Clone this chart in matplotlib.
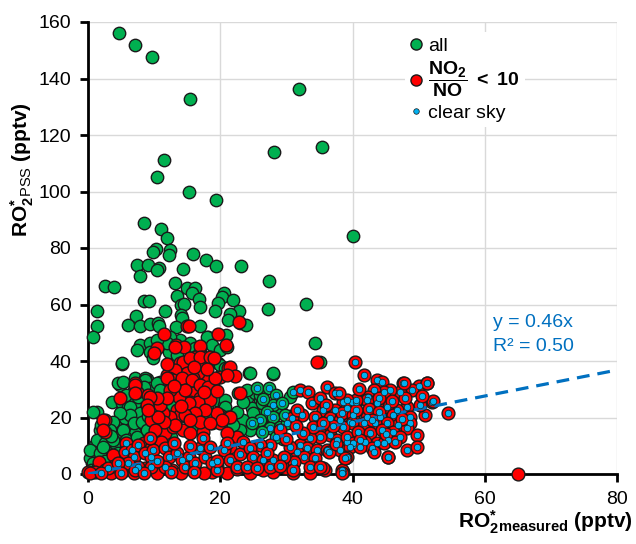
import matplotlib
matplotlib.use("Agg")
import matplotlib.pyplot as plt
from matplotlib.lines import Line2D
import numpy as np

plt.rcParams['font.family'] = ['Liberation Sans', 'DejaVu Sans']
plt.rcParams['mathtext.fontset'] = 'custom'
plt.rcParams['mathtext.rm'] = 'Liberation Sans'
plt.rcParams['mathtext.bf'] = 'Liberation Sans:bold'
plt.rcParams['mathtext.it'] = 'Liberation Sans:italic'

# all points (green)
all_pts = np.array([
    (4.7, 156), (7.1, 152), (9.7, 147.6), (15.4, 132.7), (31.9, 136.3), (28.1, 114), (35.4, 115.8),
    (11.5, 111), (10.4, 105.2), (15.2, 99.7), (19.3, 97), (40.1, 84.2),
    (8.4, 89), (11.0, 86.6), (12.0, 83.7), (10.3, 79.6), (9.8, 78.5), (12.4, 79.3), (12.3, 77.5),
    (15.9, 77.8), (17.8, 75.9), (19.3, 73.7), (23.2, 73.7), (7.4, 74.1), (9.1, 74.1), (10.7, 72.8),
    (10.5, 72.1), (14.4, 72.7), (7.9, 70.1), (27.3, 68.2), (13.2, 67.6), (2.6, 66.5), (4.0, 66.1),
    (14.9, 65.7), (16.2, 65.7), (15.7, 64.2), (20.5, 64.2), (20.2, 62.8), (13.4, 62.9), (16.8, 62.1),
    (22.0, 61.7), (8.4, 61.2), (9.2, 61.3), (19.7, 60.4), (14.0, 59.8), (14.5, 60.1), (17.0, 59.0),
    (27.2, 58.3), (32.9, 60.2), (1.4, 57.8), (11.6, 57.8), (19.2, 57.7), (22.9, 57.8), (21.5, 56.7),
    (7.2, 55.9), (14.0, 56.2), (14.2, 55.2), (21.1, 54.5), (1.3, 52.5), (6.1, 52.9), (7.8, 52.3),
    (9.4, 53.2), (10.6, 53.5), (10.8, 52.4), (13.3, 52.1), (17.0, 52.3), (23.0, 53.6), (23.9, 52.7),
    (0.8, 48.5), (18.2, 48.4), (20.8, 49.2), (34.4, 46.3),
    (7.9, 45.7), (9.4, 46.3), (10.6, 45.7), (12.2, 43.3), (13.9, 47.4), (15.4, 46.3), (16.2, 44.5),
    (18.0, 48.6), (18.7, 45.7), (20.0, 43.9), (21.0, 45.1), (12.4, 48.6), (11.9, 46.3), (10.4, 47.4),
    (9.4, 43.3), (9.9, 41.0), (7.4, 43.9), (5.2, 38.9), (5.1, 39.2), (19.7, 39.2), (20.2, 36.2),
    (20.0, 38.6), (20.7, 37.4), (24.4, 35.6), (28.0, 35.3), (35.1, 39.8), (13.4, 42.0), (17.0, 43.5),
    (4.8, 31.5), (7.1, 33.3), (8.9, 33.5), (10.9, 32.7), (7.1, 33.9), (8.6, 33.9), (4.6, 32.1),
    (5.3, 32.7), (6.9, 29.7), (8.6, 33.3), (9.4, 30.3), (10.4, 32.1), (10.9, 29.7), (3.6, 25.6),
    (5.1, 25.0), (6.1, 23.8), (5.8, 28.0), (1.3, 22.1), (0.8, 22.1), (4.3, 17.9), (5.6, 19.7),
    (6.9, 19.1), (7.9, 16.2), (8.4, 17.9), (9.6, 16.8), (7.1, 14.4), (5.6, 13.2), (4.6, 15.0),
    (11.6, 22.7), (12.9, 23.8), (13.7, 20.3), (14.7, 15.6), (16.2, 16.8), (18.7, 17.9), (1.1, 10.3),
    (2.1, 9.1), (3.1, 9.7), (4.1, 10.9), (2.8, 6.7), (1.1, 6.1), (0.6, 3.8), (4.6, 7.3), (7.1, 25.0),
    (7.6, 27.4), (8.4, 30.9), (6.4, 23.8), (7.9, 21.5), (6.4, 20.9), (6.9, 17.9), (8.1, 18.5),
    (4.8, 21.5), (3.8, 18.5), (3.3, 15.6), (1.8, 15.6), (1.3, 12.0), (2.6, 10.9), (3.8, 12.0),
    (0.3, 5.5), (0.3, 8.5), (5.3, 15.6), (5.8, 12.0), (7.4, 13.2), (8.9, 15.6), (10.4, 16.8),
    (11.4, 17.9), (11.9, 22.7), (11.1, 25.6), (9.6, 23.8), (12.7, 24.4), (13.9, 22.7), (15.4, 23.2),
    (16.9, 23.2), (18.0, 21.5), (18.0, 24.4), (19.5, 26.2), (20.5, 24.4), (21.2, 19.7), (23.0, 15.6),
    (24.0, 26.8), (25.3, 28.6), (26.0, 26.2), (24.8, 23.2), (26.0, 20.9), (27.3, 19.7), (28.0, 17.9),
    (0.8, 3.8), (1.8, 7.3), (2.3, 9.7), (0.5, 1.5), (1.5, 2.5), (2.5, 4.5), (3.5, 13.5), (2.0, 17.5),
    (6.5, 9.5), (8.5, 11.0), (10.0, 12.5), (12.5, 13.0), (9.0, 20.5), (10.0, 20.0),
    (24.5, 35.6), (28.0, 35.6), (22.7, 28.6), (24.0, 29.7), (26.0, 28.0), (26.3, 25.0), (25.0, 21.5),
    (23.5, 19.1), (24.5, 15.6), (23.0, 15.6), (22.0, 17.3), (20.7, 26.2), (20.7, 23.8), (20.5, 20.3),
    (30.6, 27.4), (29.1, 23.8), (22.5, 22.0), (23.5, 25.5), (30.5, 20.5), (29.5, 12.5),
])

# all points that are also clear sky
all_clear = np.array([
    (25.5, 30.3), (27.3, 30.3), (28.5, 28.0), (28.0, 24.4), (29.3, 25.0), (27.0, 22.1), (28.0, 20.3),
    (26.0, 19.1), (27.5, 16.2), (29.0, 16.8), (30.1, 17.9), (26.3, 15.0), (28.5, 13.2), (26.5, 26.5),
    (24.8, 18.0), (29.8, 21.0), (31.0, 29.0),
])

# NO2/NO < 10 (red)
low_pts = np.array([
    (22.8, 53.7), (14.9, 52.4), (15.2, 52.5), (11.5, 49.4), (19.6, 49.4), (20.8, 45.7), (13.3, 45.6),
    (14.5, 45.1), (17.0, 45.4), (10.5, 44.7), (10.0, 42.7), (13.2, 45.1),
    (11.9, 35.0), (12.9, 34.4), (14.2, 39.2), (14.7, 39.8), (16.2, 41.5), (17.4, 41.3), (18.6, 40.9),
    (17.2, 37.8), (15.7, 35.6), (16.7, 34.4), (13.9, 39.2), (14.4, 39.8), (15.4, 40.9), (16.9, 41.5),
    (18.5, 41.3), (19.0, 40.9), (21.2, 37.4), (20.0, 34.5), (19.0, 33.3), (18.0, 34.5), (16.7, 35.6),
    (15.9, 33.9), (14.9, 35.6), (13.2, 36.8), (12.2, 33.9), (12.9, 33.3), (13.9, 32.1), (14.9, 29.1),
    (15.9, 28.6), (16.9, 26.8), (15.4, 25.6), (13.4, 22.7), (13.9, 20.9), (12.4, 20.3), (11.4, 21.5),
    (10.9, 24.4), (9.6, 19.1), (10.4, 15.6), (11.6, 14.4), (12.9, 16.8), (14.4, 15.6), (15.4, 14.4),
    (17.4, 15.0), (20.0, 20.9), (21.2, 20.3), (22.5, 13.2), (21.5, 9.7), (21.5, 37.8), (22.2, 34.8),
    (21.0, 35.0), (23.0, 28.6), (20.0, 17.9), (21.5, 20.3), (21.0, 14.4),
    (11.9, 33.9), (14.2, 33.9), (15.7, 33.3), (16.9, 31.5), (18.2, 30.9), (18.5, 26.2), (16.7, 25.6),
    (15.2, 25.0), (13.7, 27.4), (12.4, 29.7), (14.7, 29.7), (19.2, 33.9), (19.5, 21.5), (20.2, 19.1),
    (17.7, 22.7), (16.2, 21.5), (14.7, 20.9), (13.2, 17.3), (17.0, 18.5), (18.5, 18.0), (16.0, 38.0),
    (18.0, 37.0), (13.0, 31.0), (17.5, 29.0), (19.5, 29.5), (14.0, 24.0), (12.0, 27.0), (11.5, 18.5),
    (15.5, 19.0), (12.0, 39.0),
    (7.1, 32.1), (7.4, 29.1), (9.1, 28.0), (10.4, 26.8), (10.6, 20.3), (10.1, 15.6), (2.6, 19.1),
    (2.6, 15.0), (1.6, 4.4), (4.6, 5.5), (8.4, 10.9), (9.6, 9.1), (11.1, 11.4), (4.8, 26.8),
    (2.3, 19.1), (2.3, 15.6), (7.1, 31.5), (7.1, 28.6), (9.4, 27.4), (8.9, 24.4), (9.1, 22.7), (3.8, 6.7),
    (0.0, 0.8), (1.1, 0.8), (2.6, 1.4), (5.6, 1.4), (8.6, 2.0), (12.7, 1.4), (16.2, 1.4), (18.7, 0.8),
    (0.3, 0.2), (3.5, 0.3), (7.0, 0.4), (10.5, 0.3), (14.0, 0.5), (17.5, 0.3), (21.0, 0.4), (24.5, 0.3),
    (28.0, 0.6), (31.0, 0.3), (33.6, 0.2), (35.9, 1.4), (35.6, 2.0), (65.1, 0.0), (19.5, 3.0),
    (22.5, 1.8), (26.5, 1.5), (30.0, 2.2), (4.0, 3.0), (6.0, 5.0),
    (34.6, 39.8), (35.1, 14.4), (38.9, 5.5), (29.0, 15.6),
])

# NO2/NO < 10 and clear sky
low_clear = np.array([
    (5.8, 10.9), (5.6, 7.9), (6.6, 8.5), (7.6, 10.3), (6.9, 6.1), (8.6, 7.3), (9.6, 6.1), (9.9, 8.5),
    (11.6, 9.1), (12.2, 6.1), (13.4, 7.3), (14.2, 5.0), (15.2, 6.1), (14.7, 2.6), (16.2, 3.8),
    (16.9, 9.1), (17.4, 12.6), (17.7, 6.1), (18.7, 3.8), (19.5, 1.4), (11.6, 2.6), (9.6, 2.6),
    (7.6, 2.6), (6.1, 3.8), (7.1, 1.4), (9.4, 12.6),
    (20.5, 8.5), (21.5, 5.0), (22.5, 2.5), (23.0, 7.0), (19.5, 4.5), (21.0, 11.0), (23.5, 11.5),
    (3.0, 2.0), (4.5, 4.0), (10.5, 4.5), (13.0, 11.0), (15.5, 10.0), (18.5, 9.5), (12.5, 0.8),
    (16.0, 0.6), (5.0, 0.5), (8.5, 0.5), (2.0, 0.3),
    (32.1, 29.7), (33.3, 29.1), (33.8, 25.0), (35.1, 26.8), (36.1, 30.9), (37.4, 28.6), (38.6, 25.6),
    (39.9, 25.6), (40.6, 25.6), (39.1, 23.2), (37.4, 22.7), (35.6, 22.7), (34.3, 20.3), (32.3, 20.9),
    (30.8, 19.7), (31.6, 22.7), (36.6, 19.7), (38.1, 19.1), (39.6, 18.5), (36.6, 13.8), (37.6, 12.0),
    (39.1, 11.4), (40.1, 10.3), (38.1, 8.5), (35.1, 13.2), (33.6, 12.6), (32.1, 10.3), (33.1, 9.1),
    (31.6, 7.9), (34.6, 8.5), (36.1, 8.5), (32.6, 6.1), (34.3, 5.5), (31.1, 4.4), (33.6, 2.6),
    (35.1, 2.6), (38.6, 0.8), (30.6, 9.7), (27.5, 10.3), (26.0, 10.3), (24.5, 9.1), (25.0, 6.1),
    (26.5, 5.0), (28.0, 5.0), (29.6, 6.1), (24.0, 2.6), (25.5, 2.0), (27.5, 2.6),
    (40.4, 39.8), (41.7, 35.0), (43.7, 33.3), (44.4, 32.7), (47.7, 32.1), (50.0, 31.2), (51.3, 32.1),
    (49.0, 29.7), (47.2, 29.1), (45.7, 29.7), (44.7, 29.1), (43.2, 29.7), (42.4, 27.4), (52.0, 25.6),
    (51.0, 20.9), (54.5, 21.5), (50.2, 24.4), (48.2, 23.8), (46.7, 22.7), (45.2, 23.8), (43.7, 25.0),
    (42.2, 26.2), (40.6, 26.2), (39.1, 26.2), (38.4, 21.5), (40.1, 20.9), (42.2, 20.3), (44.2, 20.3),
    (46.2, 20.9), (48.7, 20.3), (48.7, 17.9), (46.9, 17.3), (45.2, 17.9), (43.4, 17.9), (41.7, 17.9),
    (39.9, 17.9), (38.6, 16.8), (39.1, 13.2), (40.9, 15.0), (42.7, 14.4), (44.4, 15.6), (46.2, 15.0),
    (48.2, 16.2), (49.7, 13.8), (47.2, 13.2), (45.4, 12.0), (43.7, 10.9), (41.9, 11.4), (40.1, 10.9),
    (39.6, 9.7), (41.2, 12.0), (42.9, 9.1), (44.7, 10.9), (46.4, 11.4), (48.2, 8.5), (49.7, 9.7),
    (45.4, 6.1), (43.2, 7.9), (41.2, 9.7), (39.1, 6.1), (38.4, 1.4),
    (38.4, 0.5), (38.9, 5.8), (36.5, 7.7), (45.3, 6.1), (47.8, 32.1), (51.2, 32.1), (52.1, 25.8),
    (41.0, 30.0), (42.5, 23.0), (44.0, 22.0), (46.0, 26.0), (48.0, 27.0), (50.5, 27.5), (37.0, 17.0),
    (36.0, 24.5), (34.0, 16.5), (32.5, 14.5), (37.5, 10.5), (43.0, 19.0), (45.0, 14.0), (47.5, 19.5),
    (40.5, 22.5), (44.0, 27.0), (38.0, 28.5), (35.5, 18.0), (31.5, 17.0), (30.0, 12.5), (27.0, 7.5),
    (29.0, 3.0), (31.0, 1.5),
])

slope = 0.46
r2 = 0.50
fit_x = [0, 80]

green = np.vstack([all_pts, all_clear])
red = np.vstack([low_pts, low_clear])
blue = np.vstack([all_clear, low_clear])

fig = plt.figure(figsize=(6.36, 5.44), dpi=100)
ax = fig.add_axes([88 / 636, 70 / 544, 529 / 636, 452 / 544])

ax.scatter(green[:, 0], green[:, 1], s=80, c='#00B050', edgecolors='#1a1a1a',
           linewidths=1.0, zorder=3, clip_on=False)
ax.scatter(red[:, 0], red[:, 1], s=85, c='#FF0000', edgecolors='#1a1a1a',
           linewidths=1.0, zorder=4, clip_on=False)
ax.plot(fit_x, [slope * v for v in fit_x], color='#0070C0', lw=2.3,
        dashes=(4, 2.5), zorder=5)
ax.scatter(blue[:, 0], blue[:, 1], s=22, c='#00B0F0', edgecolors='#1a1a1a',
           linewidths=0.5, zorder=6, clip_on=False)

ax.text(61.2, 53.8, 'y = %.2fx' % slope, color='#0070C0', fontsize=14, va='center')
ax.text(61.2, 45.0, 'R² = %.2f' % r2, color='#0070C0', fontsize=14, va='center')

ax.set_xlim(0, 80)
ax.set_ylim(0, 160)
ax.set_xticks(range(0, 81, 20))
ax.set_yticks(range(0, 161, 20))
ax.grid(True, color='#d9d9d9', lw=1)
ax.set_axisbelow(True)
for side in ('top', 'right'):
    ax.spines[side].set_visible(False)
for side in ('left', 'bottom'):
    ax.spines[side].set_linewidth(2)
ax.tick_params(direction='out', length=6, width=2, labelsize=14, pad=6)

fig.text(633 / 636, 1 - 522 / 544,
         r'$\mathbf{RO}_{\mathbf{2}}^{\mathbf{*}}{}_{\mathbf{measured}}$ (pptv)',
         ha='right', va='center', fontsize=15, fontweight='bold')
fig.text(22 / 636, 1 - 170 / 544,
         r'$\mathbf{RO}_{\mathbf{2}}^{\mathbf{*}}{}_{\mathrm{PSS}}$ (pptv)',
         ha='center', va='center', rotation=90, fontsize=15, fontweight='bold')

handles = [
    Line2D([], [], ls='none', marker='o', ms=8, mfc='#00B050', mec='#1a1a1a', mew=1),
    Line2D([], [], ls='none', marker='o', ms=8, mfc='#FF0000', mec='#1a1a1a', mew=1),
    Line2D([], [], ls='none', marker='o', ms=4, mfc='#00B0F0', mec='#1a1a1a', mew=0.5),
]
labels = ['all',
          r'$\dfrac{\mathbf{NO_2}}{\mathbf{NO}}$' + r' $\mathbf{<\ 10}$',
          'clear sky']
leg = ax.legend(handles, labels, loc='upper left', bbox_to_anchor=(0.58, 1.0),
                fontsize=14, frameon=True, facecolor='white', edgecolor='none',
                framealpha=1, handlelength=0.6, handletextpad=0.3, labelspacing=0.25,
                borderpad=0.3)
leg.set_zorder(10)

fig.savefig('out.png', dpi=100)
